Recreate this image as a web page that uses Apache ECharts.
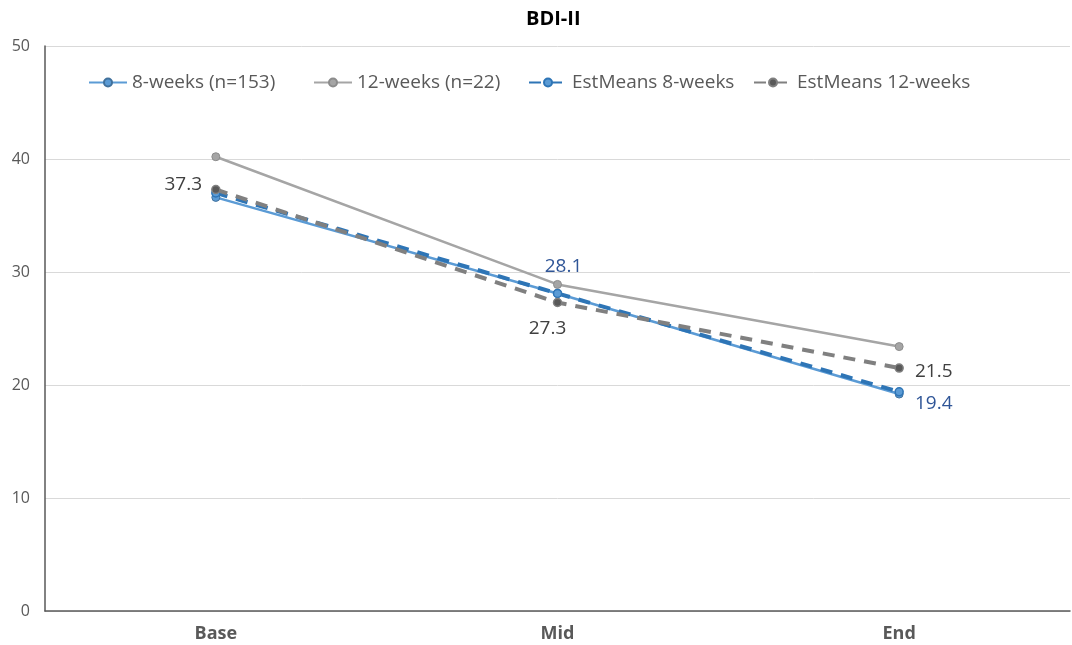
<!DOCTYPE html>
<html>
<head>
<meta charset="utf-8">
<script src="https://cdn.jsdelivr.net/npm/echarts@6/dist/echarts.min.js"></script>
<style>html,body{margin:0;padding:0;background:#fff}#c{width:1072px;height:645px}</style>
</head>
<body>
<div id="c"></div>
<script>
const categories = ['Base', 'Mid', 'End'];
const yTicks = [0, 10, 20, 30, 40, 50];
const seriesNames = ['8-weeks (n=153)', '12-weeks (n=22)', 'EstMeans 8-weeks', 'EstMeans 12-weeks'];
const weeks8 = [36.6, 28.1, 19.2];
const weeks12 = [40.2, 28.9, 23.4];
const est8 = [37.0, 28.1, 19.4];
const est12 = [37.3, 27.3, 21.5];
// which points carry a value label (null = none)
const est8Labels = [null, 'top', 'right'];
const est12Labels = ['left', 'bottom', 'right'];

const font = 'Open Sans';
const legendLefts = [83, 308, 523, 748];

function withLabels(values, where, color, offsets) {
  return values.map((v, i) => {
    if (!where[i]) return { value: v, label: { show: false } };
    return {
      value: v,
      label: { show: true, color: color, fontSize: 19, fontFamily: font,
        position: where[i], offset: offsets[i],
        formatter: p => p.value.toFixed(1) }
    };
  });
}

const chart = echarts.init(document.getElementById('c'));
chart.setOption({
  animation: false,
  title: {
    text: 'BDI-II', left: 521, top: 4,
    textStyle: { fontFamily: font, fontWeight: 'bold', fontSize: 20, color: '#000' }
  },
  legend: seriesNames.map((n, i) => ({
    data: [n],
    left: legendLefts[i], top: 68,
    itemWidth: 38, itemHeight: 10,
    textStyle: { fontFamily: font, fontSize: 19, color: '#595959' }
  })),
  grid: { left: 45, right: 2, top: 46, bottom: 34, containLabel: false },
  xAxis: {
    type: 'category', data: categories, boundaryGap: true,
    axisLine: { lineStyle: { color: '#595959', width: 1.5 } },
    axisTick: { show: false },
    axisLabel: { fontFamily: font, fontSize: 18, fontWeight: 'bold', color: '#595959', margin: 14 }
  },
  yAxis: {
    type: 'value', min: 0, max: 50, interval: 10,
    axisLine: { show: true, lineStyle: { color: '#595959', width: 1.5 } },
    axisTick: { show: false },
    splitLine: { lineStyle: { color: '#d9d9d9' } },
    axisLabel: { fontFamily: font, fontSize: 16, color: '#595959', margin: 15,
      formatter: v => yTicks.includes(v) ? String(v) : '' }
  },
  series: [
    {
      name: seriesNames[0], type: 'line', data: weeks8, z: 3,
      symbol: 'circle', symbolSize: 8,
      lineStyle: { color: '#5B9BD5', width: 2.5 },
      itemStyle: { color: '#5B9BD5', borderColor: '#41719C', borderWidth: 1 }
    },
    {
      name: seriesNames[1], type: 'line', data: weeks12, z: 2,
      symbol: 'circle', symbolSize: 8,
      lineStyle: { color: '#A5A5A5', width: 2.5 },
      itemStyle: { color: '#A5A5A5', borderColor: '#8c8c8c', borderWidth: 1 }
    },
    {
      name: seriesNames[2], type: 'line', z: 4,
      data: withLabels(est8, est8Labels, '#2F5597', [null, [6, -8], [6, 12]]),
      symbol: 'circle', symbolSize: 8,
      lineStyle: { color: '#2E75B6', width: 4, type: [12, 9] },
      itemStyle: { color: '#5B9BD5', borderColor: '#2E75B6', borderWidth: 1.5 }
    },
    {
      name: seriesNames[3], type: 'line', z: 5,
      data: withLabels(est12, est12Labels, '#404040', [[-4, -5], [-10, 7], [6, 4]]),
      symbol: 'circle', symbolSize: 8,
      lineStyle: { color: '#808080', width: 4, type: [12, 9] },
      itemStyle: { color: '#595959', borderColor: '#808080', borderWidth: 1.5 }
    }
  ]
});
</script>
</body>
</html>
